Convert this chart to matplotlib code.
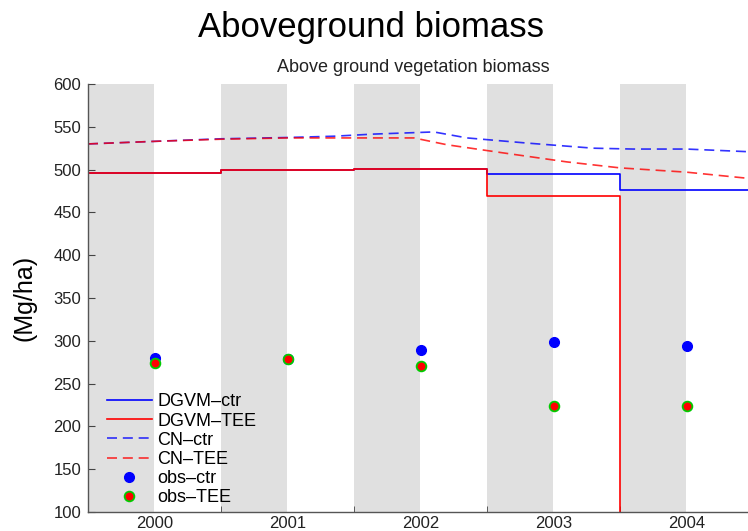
import numpy as np
import matplotlib
matplotlib.use("Agg")
import matplotlib.pyplot as plt
from matplotlib.ticker import FixedLocator

plt.rcParams['font.family'] = ['Liberation Sans', 'DejaVu Sans']

# datos
years = [2000, 2001, 2002, 2003, 2004]
obs_ctr = [280, 279, 289, 299, 294]
obs_tee = [274, 279, 270, 224, 224]

# modelo DGVM en escalones (cambio al inicio de cada banda gris)
step_x = [1999.5, 2000.5, 2001.5, 2002.5, 2003.5, 2004.6]
dgvm_ctr = [496, 499, 501, 495, 476, 476]
dgvm_tee = [496, 499, 501, 469, 0, 0]

# modelo CN
cn_ctr_x = [1999.5, 2000.0, 2000.5, 2001.0, 2001.35, 2001.65, 2002.1, 2002.35, 2002.8, 2003.3, 2003.6, 2004.0, 2004.45]
cn_ctr = [530, 533, 536, 537.5, 539, 541.5, 544, 537, 531, 525, 524, 524, 521]
cn_tee_x = [1999.5, 2000.0, 2000.5, 2001.0, 2001.35, 2001.95, 2002.2, 2002.6, 2003.1, 2003.5, 2004.0, 2004.45]
cn_tee = [530, 533, 535.5, 537, 537, 537, 529, 520, 509, 502, 497, 490]

fig = plt.figure(figsize=(7.48, 5.31), dpi=100)
ax = fig.add_axes([88/748, 1-512/531, 1-88/748, 428/531])

for y in years:
    ax.axvspan(y-0.5, y, color='#e0e0e0', lw=0, zorder=0)

ax.step(step_x, dgvm_ctr, where='post', color='#0000ff', lw=1.2, label='DGVM\u2013ctr')
ax.step(step_x, dgvm_tee, where='post', color='#ff0000', lw=1.2, label='DGVM\u2013TEE')
ax.plot(cn_ctr_x, cn_ctr, color='#0000ff', lw=1.2, dashes=(6, 3.5), alpha=0.8, label='CN\u2013ctr')
ax.plot(cn_tee_x, cn_tee, color='#ff0000', lw=1.2, dashes=(6, 3.5), alpha=0.8, label='CN\u2013TEE')
ax.plot(years, obs_ctr, 'o', color='#0000ff', ms=7, mec='#0000ff', label='obs\u2013ctr')
ax.plot(years, obs_tee, 'o', color='#ff0000', ms=7, mec='#00cc00', mew=1.3, label='obs\u2013TEE')

ax.set_xlim(1999.5, 1999.5 + 660/133)
ax.set_ylim(100, 600)
ax.set_yticks(np.arange(100, 601, 50))
ax.set_xticks(years)
ax.xaxis.set_minor_locator(FixedLocator([2000.5, 2001.5, 2002.5, 2003.5]))
ax.tick_params(axis='x', which='major', length=0, pad=3, labelsize=12, labelcolor='#222222')
ax.tick_params(axis='x', which='minor', direction='in', length=4, color='#444444')
ax.tick_params(axis='y', direction='in', length=5, color='#444444', pad=5, labelsize=12, labelcolor='#222222')

for s in ['top', 'right']:
    ax.spines[s].set_visible(False)
for s in ['left', 'bottom']:
    ax.spines[s].set_color('#555555')
    ax.spines[s].set_linewidth(1.0)

ax.legend(loc='upper left', bbox_to_anchor=(0.015, 0.298), frameon=False, fontsize=13,
          handlelength=2.5, handletextpad=0.3, labelspacing=0.12, borderpad=0, numpoints=1)

fig.text(371/748, 1-28/531, 'Aboveground biomass', fontsize=25, ha='center', va='center', color='black')
fig.text(413/748, 1-68/531, 'Above ground vegetation biomass', fontsize=13, ha='center', va='center', color='#222222')
fig.text(25/748, 1-298/531, '(Mg/ha)', fontsize=18, rotation=90, ha='center', va='center', color='black')

fig.savefig('out.png', dpi=100)
